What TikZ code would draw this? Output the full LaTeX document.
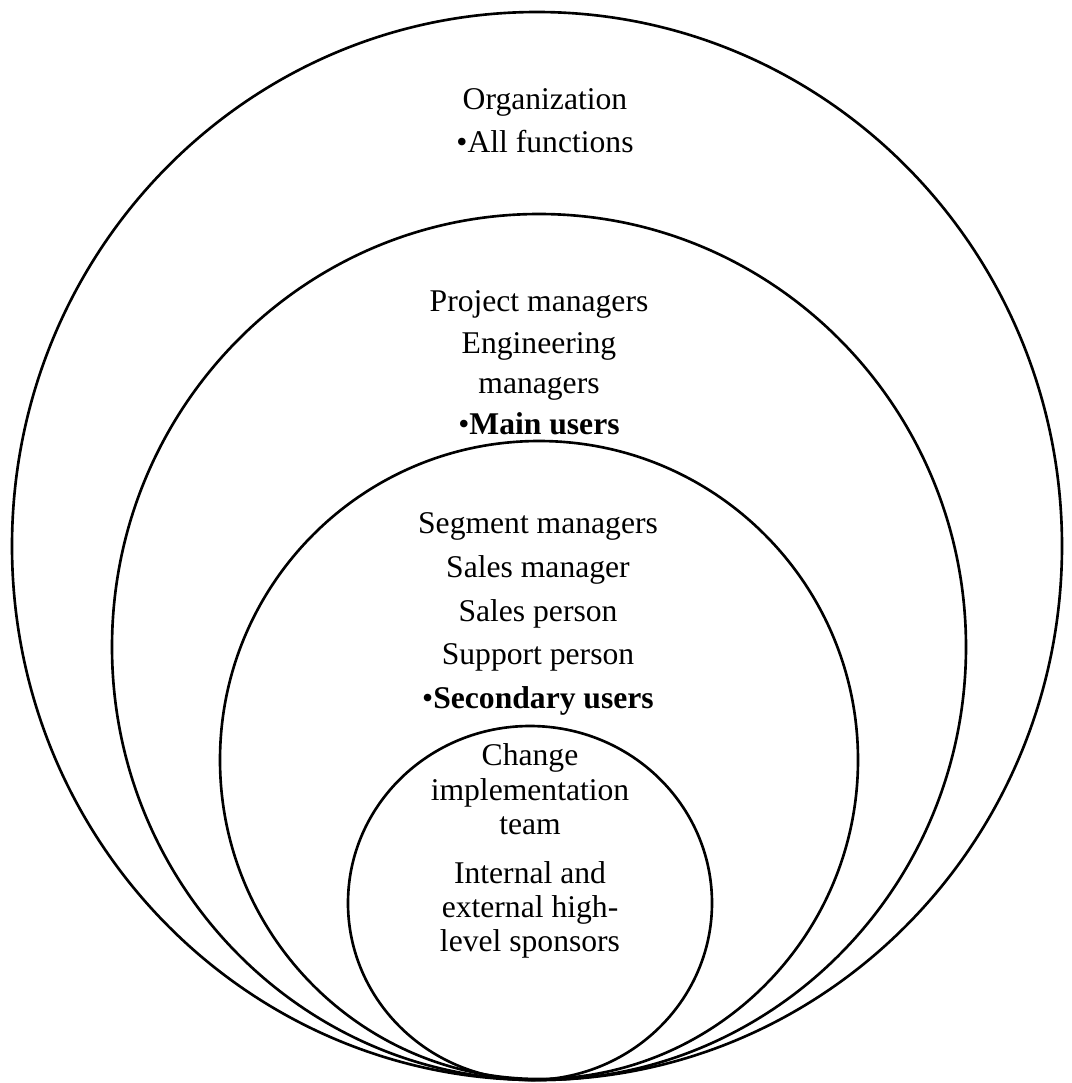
\documentclass[tikz,border=0pt]{standalone}
\usepackage{fontspec}
\setmainfont{Liberation Serif}
\begin{document}
\begin{tikzpicture}[x={0.02cm},y={-0.02cm},
  ring/.style={line width=1.5pt},
  label/.style={align=center,inner sep=0pt,font=\fontsize{18}{23}\selectfont},
  tight/.style={label,font=\fontsize{18}{19.4}\selectfont}]
\useasboundingbox (0,0) rectangle (1072,1083);
% nested circles, all touching near the bottom
\draw[ring] (537,546) ellipse [x radius=525, y radius=534];
\draw[ring] (539,647) ellipse [x radius=427, y radius=433];
\draw[ring] (539,760) ellipse [x radius=319, y radius=319];
\draw[ring] (530,903) ellipse [x radius=182, y radius=177];
% text of each ring
\node[label] (org) at (545,121) {Organization\\[1.5pt]\textbullet All functions};
\node[label] (mainu) at (539,363) {Project managers\\[0.5pt]Engineering\\managers\\[0.5pt]\textbullet\textbf{Main users}};
\node[label] (secu) at (538,614) {Segment managers\\[2pt]Sales manager\\[2pt]Sales person\\[2pt]Support person\\[2pt]\textbullet\textbf{Secondary users}};
\node[tight] (core) at (530,851) {Change\\implementation\\team\\[8.5pt]Internal and\\external high-\\level sponsors};
\end{tikzpicture}
\end{document}
